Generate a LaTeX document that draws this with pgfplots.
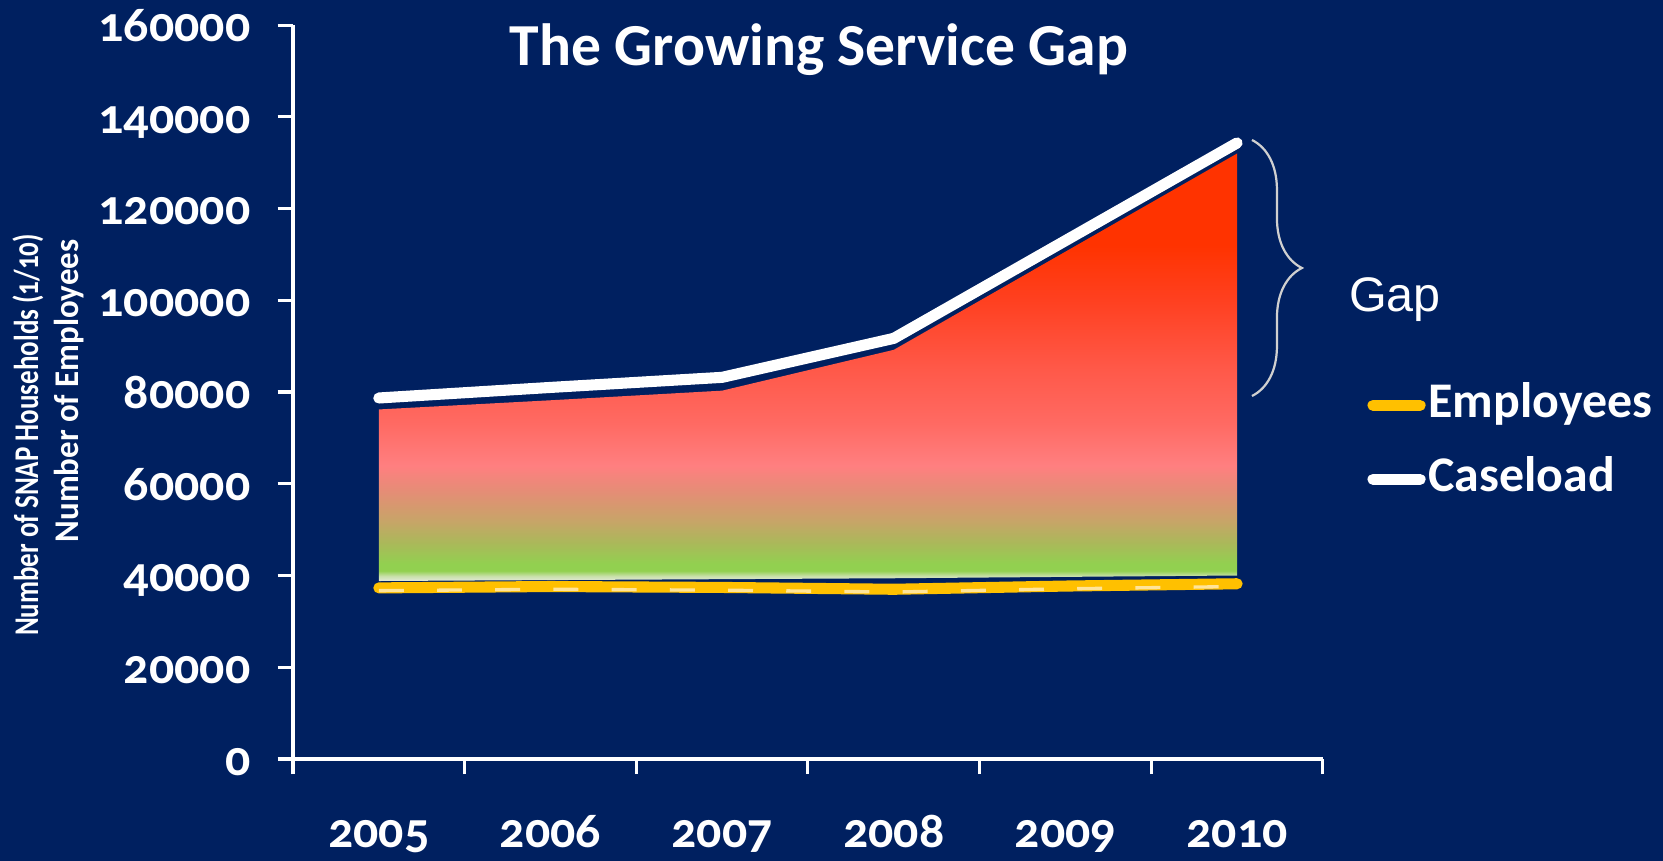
\documentclass[border=0pt]{standalone}
\usepackage{fontspec}
\setmainfont{Carlito}[Numbers=OldStyle]
\newfontfamily\gapfont{Liberation Sans}
\usepackage{pgfplots}
\pgfplotsset{compat=1.18}
\usetikzlibrary{decorations.pathreplacing}

\definecolor{navy}{HTML}{002060}
\definecolor{gold}{HTML}{FFC000}
\definecolor{goldlight}{HTML}{FFE49A}
\definecolor{bracegray}{HTML}{D0D0D0}
% gradient of the gap area, bottom to top
\definecolor{s0}{HTML}{E4EADB}
\definecolor{s1}{HTML}{C8E0A8}
\definecolor{s2}{HTML}{92D050}
\definecolor{s3}{HTML}{ABB85A}
\definecolor{s4}{HTML}{C8A468}
\definecolor{s5}{HTML}{E58D76}
\definecolor{s6}{HTML}{FF7F80}
\definecolor{s7}{HTML}{FF6A63}
\definecolor{s8}{HTML}{FF5848}
\definecolor{s9}{HTML}{FF4020}
\definecolor{s10}{HTML}{FF3300}
\pgfdeclareverticalshading{gapshade}{100bp}{color(0bp)=(s0); color(25bp)=(s0);
  color(25.6bp)=(s1); color(26.2bp)=(s2); color(27bp)=(s2); color(29.5bp)=(s3);
  color(32.1bp)=(s4); color(35.5bp)=(s5); color(38.5bp)=(s6); color(43.4bp)=(s7);
  color(50bp)=(s8); color(57.8bp)=(s9); color(64.3bp)=(s10); color(100bp)=(s10)}

\begin{document}
\begin{tikzpicture}[font=\bfseries]
\fill[navy] (0,0) rectangle (600pt,310.64pt);
\begin{axis}[
  at={(105.71pt,36.80pt)}, anchor=south west,
  scale only axis, width=371.6pt, height=264.8pt,
  xmin=-0.5, xmax=5.5, ymin=0, ymax=160000,
  axis x line*=bottom, axis y line*=left,
  axis line style={white, line width=1.1pt, -},
  xtick={-0.5,0.5,...,5.5}, xticklabels={},
  extra x ticks={0,1,2,3,4,5},
  extra x tick labels={2005,2006,2007,2008,2009,2010},
  extra x tick style={major tick length=0pt,
    xticklabel style={anchor=base, inner sep=0pt, yshift=-32.1pt}},
  ytick={0,20000,...,160000},
  tick align=outside, major tick length=5.5pt,
  tick style={white, line width=1.1pt},
  scaled y ticks=false,
  yticklabel style={/pgf/number format/fixed, /pgf/number format/1000 sep={},
    /pgf/number format/assume math mode=true, inner sep=0pt,
    anchor=base east, xshift=-9.7pt, yshift=-5.9pt},
  ticklabel style={text=white, font=\fontsize{18}{21}\selectfont\bfseries},
  clip=false,
  legend style={draw=none, fill=none, at={(1.0427,0.4315)}, anchor=west,
    inner sep=0pt, row sep=7.7pt,
    nodes={inner sep=1pt, text=white, font=\fontsize{18}{21}\selectfont\bfseries,
      text height=13pt, text depth=4pt}},
  legend cell align=left,
  legend image code/.code={\draw[#1, line cap=round] (0pt,0pt) -- (17pt,0pt);},
]
% gap between caseload and employees
\addplot[draw=none, shading=gapshade, forget plot] coordinates {
  (0,76200) (1,78200) (2,80300) (3,89200) (4,110600) (5,132000)
  (5,40000) (4,39700) (3,39400) (2,39200) (1,39000) (0,38800)} -- cycle;
\addplot[gold, line width=4pt, line cap=round, line join=round] coordinates {
  (0,37300) (1,37600) (2,37400) (3,37000) (4,37700) (5,38200)};
\addlegendentry{Employees}
\addplot[goldlight, line width=1.2pt, dash pattern=on 9pt off 12pt, forget plot] coordinates {
  (0,36700) (1,37000) (2,36800) (3,36400) (4,37100) (5,37600)};
\addplot[white, line width=4pt, line cap=round, line join=round] coordinates {
  (0,78700) (1,81000) (2,83200) (3,91700) (4,113000) (5,134300)};
\addlegendentry{Caseload}
\end{axis}
% annotations, in pixel units of the reference
\begin{scope}[x=0.36079pt, y=-0.36079pt, shift={(0pt,310.64pt)}]
\node[white, anchor=base, font=\fontsize{21.5}{24}\selectfont\bfseries] at (819,66) {The Growing Service Gap};
\node[white, rotate=90, anchor=base, font=\bfseries\fontsize{12.5}{14}\selectfont] at (38,435) {\scalebox{0.78}[1]{Number of SNAP Households (1/10)}};
\node[white, rotate=90, anchor=base, font=\bfseries\fontsize{12.5}{14}\selectfont] at (78,391) {\scalebox{0.95}[1]{Number of Employees}};
\draw[bracegray, line width=0.8pt, decorate, decoration={brace, amplitude=18pt}] (1252,140) -- (1252,396);
\node[white, anchor=base, font=\gapfont\fontsize{17.5}{20}\selectfont] at (1395,312) {Gap};
\end{scope}
\pgfresetboundingbox
\path[use as bounding box] (0,0) rectangle (600pt,310.64pt);
\end{tikzpicture}
\end{document}
